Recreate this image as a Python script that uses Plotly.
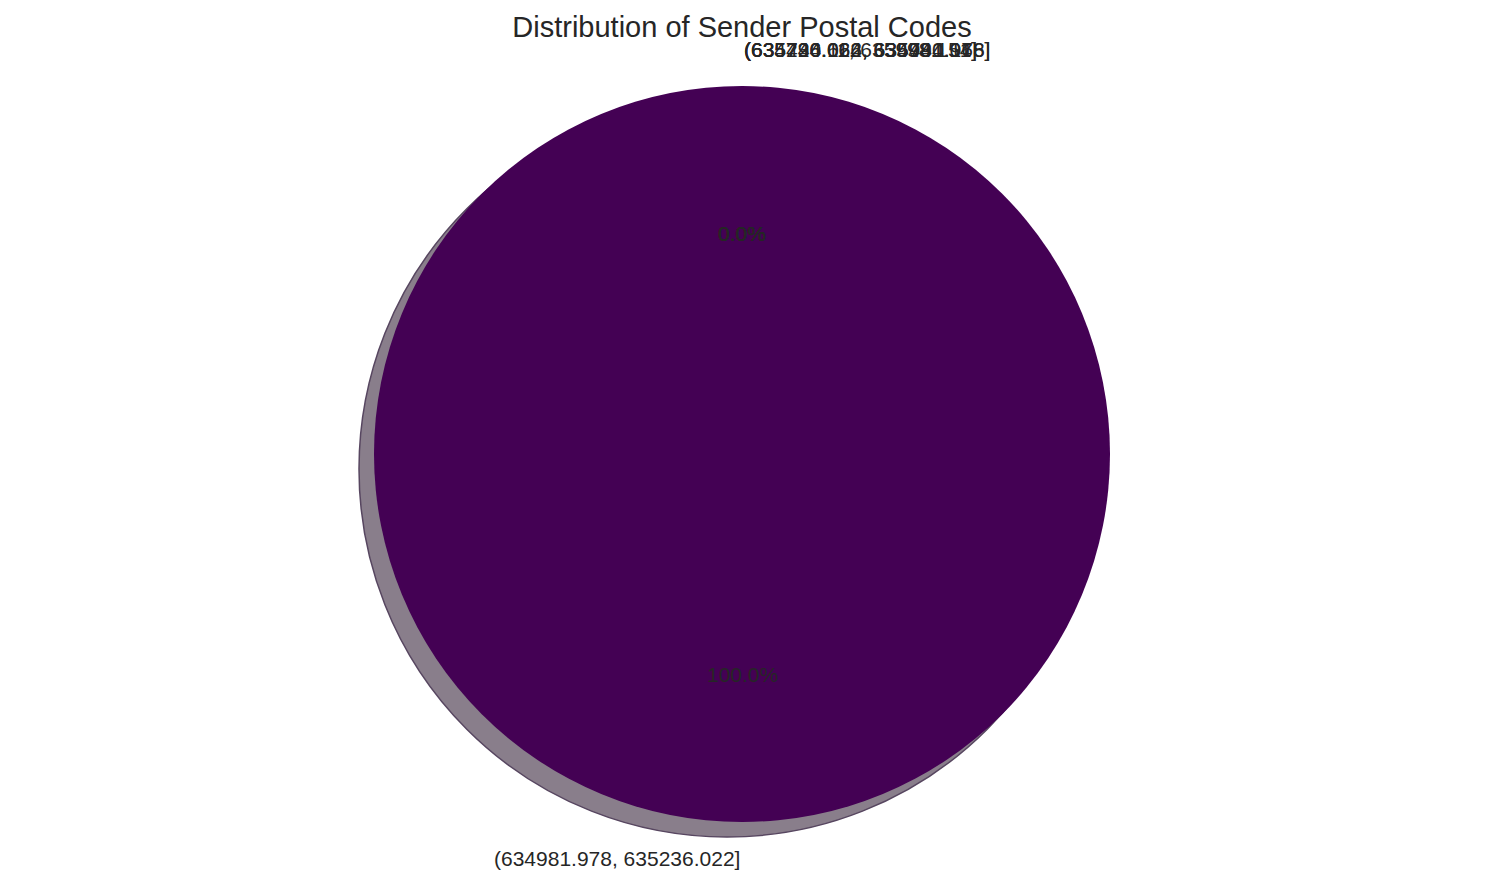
import math
import plotly.graph_objects as go

# postal code bins (pd.cut style labels) and counts per bin
bin_labels = [
    "(634726.664, 634981.978]",
    "(634981.978, 635236.022]",
    "(635236.022, 635490.066]",
    "(635490.066, 635744.11]",
    "(635744.11, 635998.154]",
]
bin_counts = [0, 48963, 0, 0, 0]

# order like value_counts(): biggest first
order = sorted(range(len(bin_counts)), key=lambda i: -bin_counts[i])
labels = [bin_labels[i] for i in order]
counts = [bin_counts[i] for i in order]
total = sum(counts)

W, H = 1485, 885
TEXT = "#262626"
FONT = "Arial, Liberation Sans, sans-serif"

# pie box in pixels (left, top, size)
px_left, px_top, px_size = 374, 86, 736
shadow_dx, shadow_dy = -15, 15


def dom(left, top, size):
    return dict(x=[left / W, (left + size) / W],
                y=[1 - (top + size) / H, 1 - top / H])


fig = go.Figure()

# shadow
fig.add_trace(go.Pie(
    labels=labels,
    values=counts,
    sort=False,
    direction="counterclockwise",
    rotation=0,
    textinfo="none",
    hoverinfo="skip",
    showlegend=False,
    domain=dom(px_left + shadow_dx, px_top + shadow_dy, px_size),
    marker=dict(colors=["#897e8b"] * len(counts),
                line=dict(color="#574660", width=1.5)),
))

# main pie
fig.add_trace(go.Pie(
    labels=labels,
    values=counts,
    sort=False,
    direction="counterclockwise",
    rotation=0,
    textinfo="none",
    showlegend=False,
    domain=dom(px_left, px_top, px_size),
    marker=dict(colors=["#440154"] * len(counts),
                line=dict(color="#440154", width=0)),
))

# matplotlib-style labels (1.1 r) and percentages (0.6 r)
cx = px_left + px_size / 2
cy = px_top + px_size / 2
r = px_size / 2
theta = 90.0
annotations = []
for lab, c in zip(labels, counts):
    frac = c / total
    mid = math.radians(theta + 180.0 * frac)
    theta += 360.0 * frac
    x, y = math.cos(mid), math.sin(mid)
    annotations.append(dict(
        x=(cx + 1.1 * r * x) / W, y=1 - (cy - 1.1 * r * y) / H,
        xref="paper", yref="paper", text=lab, showarrow=False,
        xanchor="left" if x > 0 else "right", yanchor="middle",
        font=dict(family=FONT, size=21, color=TEXT),
    ))
    annotations.append(dict(
        x=(cx + 0.6 * r * x) / W, y=1 - (cy - 0.6 * r * y) / H,
        xref="paper", yref="paper", text=f"{100 * frac:.1f}%", showarrow=False,
        xanchor="center", yanchor="middle",
        font=dict(family=FONT, size=21, color=TEXT),
    ))

fig.update_layout(
    width=W,
    height=H,
    margin=dict(l=0, r=0, t=0, b=0),
    paper_bgcolor="white",
    plot_bgcolor="white",
    title=dict(text="Distribution of Sender Postal Codes", x=cx / W, y=1 - 27 / H,
               xanchor="center", yanchor="middle",
               font=dict(family=FONT, size=29, color=TEXT)),
    annotations=annotations,
)

# drop the default page margin so the figure sits at the window corner
fig.write_html("out.html", config={"displayModeBar": False},
               post_script="document.body.style.margin = '0';")
